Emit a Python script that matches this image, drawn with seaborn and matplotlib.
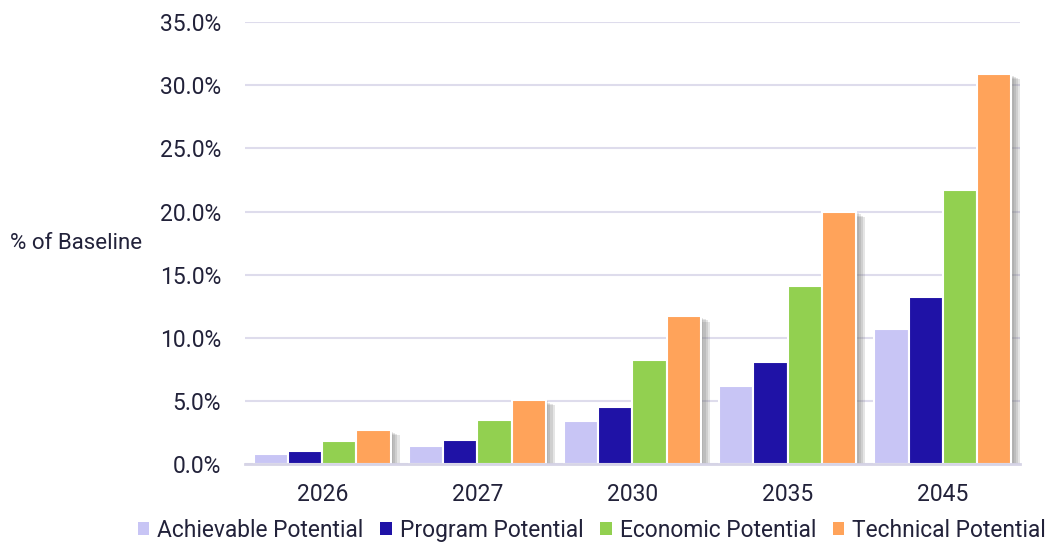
import pandas as pd
import numpy as np
import matplotlib
matplotlib.use('Agg')
from matplotlib import pyplot as plt
from matplotlib import patheffects as pe
from matplotlib.ticker import PercentFormatter
import seaborn as sns

years = ['2026', '2027', '2030', '2035', '2045']
series = ['Achievable Potential', 'Program Potential', 'Economic Potential', 'Technical Potential']
achievable = [0.8, 1.4, 3.4, 6.2, 10.7]
program = [1.0, 1.9, 4.5, 8.1, 13.2]
economic = [1.8, 3.5, 8.2, 14.1, 21.7]
technical = [2.7, 5.1, 11.7, 20.0, 30.9]
colors = ['#c8c5f5', '#1f12a6', '#92d050', '#ffa35a']

df = pd.DataFrame({
    'year': years * 4,
    'series': np.repeat(series, len(years)),
    'value': np.array(achievable + program + economic + technical) / 100,
})

sns.set_theme(style='white')
plt.rcParams['font.family'] = ['Roboto', 'DejaVu Sans']
text_col = '#22223a'

fig = plt.figure(figsize=(10.55, 5.42), dpi=100)
ax = fig.add_axes([0.232, 0.144, 0.735, 0.815])
sns.barplot(data=df, x='year', y='value', hue='series', palette=colors, saturation=1,
            width=0.88, edgecolor='white', linewidth=1.5, ax=ax, legend=True)

handles, labels = ax.get_legend_handles_labels()
ax.get_legend().remove()

# soft drop shadow, built from a few offset layers
shadow = [pe.SimplePatchShadow(offset=(o, -o * 0.6), shadow_rgbFace='#707070', alpha=0.18)
          for o in (2, 3.5, 5, 6.5)] + [pe.Normal()]
for p in ax.patches:
    p.set_path_effects(shadow)

ax.set_ylim(0, 0.35)
ax.set_yticks(np.arange(0, 0.351, 0.05))
ax.yaxis.set_major_formatter(PercentFormatter(1.0, decimals=1))
ax.grid(axis='y', color='#dedcec', linewidth=1.5)
ax.set_axisbelow(True)
for s in ['top', 'right', 'left']:
    ax.spines[s].set_visible(False)
ax.spines['bottom'].set_color('#d6d4e6')
ax.spines['bottom'].set_linewidth(2)
ax.tick_params(axis='y', length=0, pad=17, labelsize=16.5, labelcolor=text_col)
ax.tick_params(axis='x', length=0, pad=14, labelsize=16.5, labelcolor=text_col)
ax.set_xlabel('')
ax.set_ylabel('% of Baseline', rotation=0, fontsize=16, color=text_col, ha='center', va='center')
ax.yaxis.set_label_coords(-0.217, 0.5)

leg = fig.legend(handles, labels, loc='center', bbox_to_anchor=(0.561, 0.022), ncol=4,
                 frameon=False, fontsize=16.4, handlelength=0.5, handleheight=0.5,
                 handletextpad=0.35, columnspacing=0.75, labelcolor=text_col,
                 borderpad=0)
for h in leg.legend_handles:
    h.set_edgecolor('none')
    h.set_path_effects([])

fig.savefig('out.png', dpi=100)
